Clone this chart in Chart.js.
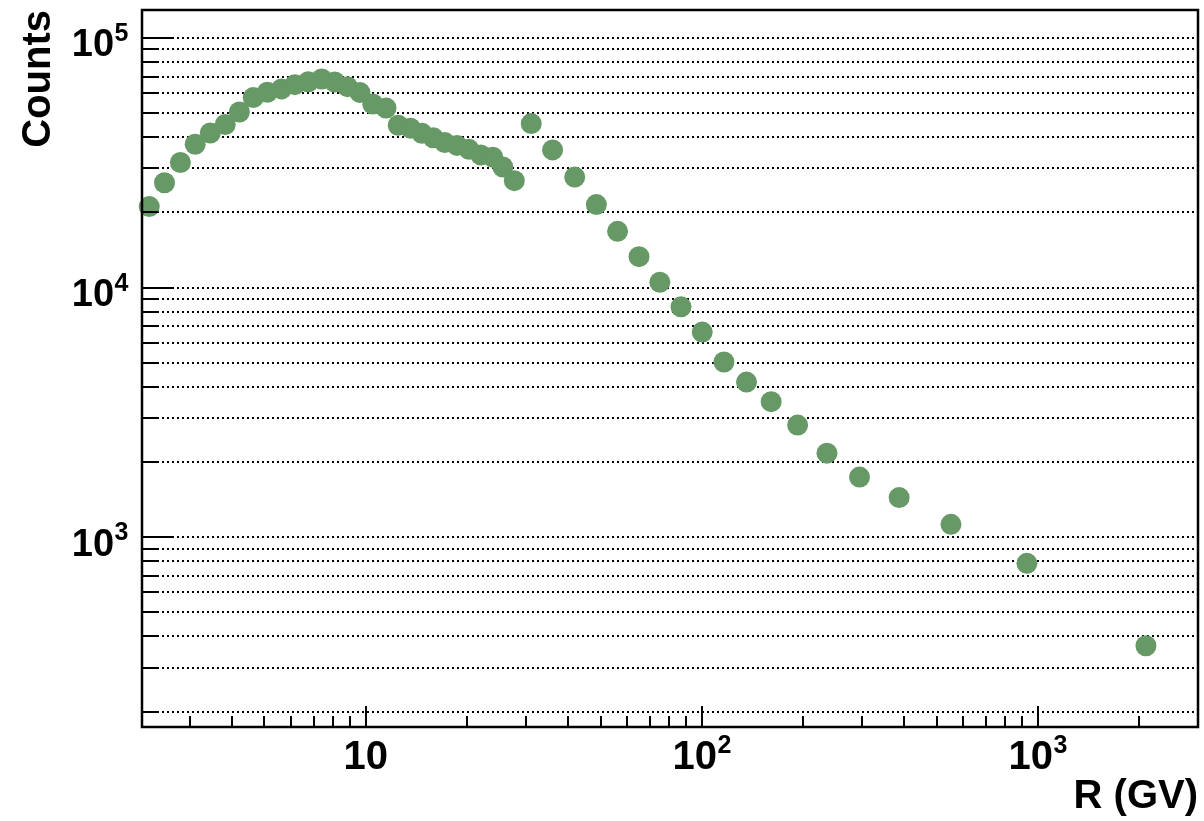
<!DOCTYPE html>
<html>
<head>
<meta charset="utf-8">
<script src="https://cdn.jsdelivr.net/npm/chart.js@4"></script>
<style>
	html, body { margin: 0; padding: 0; background: #fff; }
	canvas { display: block; }
</style>
</head>
<body>
<canvas id="chart" width="1204" height="821"></canvas>
<script>
// rigidity bin centres (GV) and event counts per bin
const rigidity = [
	2.27, 2.52, 2.81, 3.11, 3.45, 3.82, 4.21, 4.63, 5.10, 5.62,
	6.16, 6.75, 7.40, 8.09, 8.82, 9.62, 10.5, 11.5, 12.5, 13.6,
	14.7, 15.9, 17.2, 18.7, 20.3, 22.0, 23.9, 25.6, 27.7, 31.1,
	36.0, 41.9, 48.6, 56.2, 65.1, 75.1, 86.8, 100.4, 116.5, 136,
	161, 193, 236, 295, 387, 552, 929, 2100
];
const counts = [
	21100, 26300, 31700, 37500, 41600, 45000, 50500, 57700, 60600, 62500,
	65000, 66800, 68500, 66600, 63800, 60400, 54400, 52400, 44700, 43500,
	41500, 39800, 38100, 37100, 35800, 34000, 33300, 30400, 26800, 45400,
	35600, 27700, 21500, 16800, 13300, 10500, 8370, 6630, 5030, 4180,
	3490, 2810, 2170, 1740, 1440, 1125, 785, 367
];

// labelled decades on each axis ("" = no exponent)
const xLabelValues = [10, 100, 1000];
const xLabelExponents = ["", "2", "3"];
const yLabelValues = [1000, 10000, 100000];
const yLabelExponents = ["3", "4", "5"];

const xTitle = "R (GV)";
const yTitle = "Counts";

const FONT = '"Liberation Sans", Arial, Helvetica, sans-serif';
const POINT_COLOR = "#669966";

// 1..9 x 10^n values between min and max
function logTicks(min, max) {
	const out = [];
	const lo = Math.floor(Math.log10(min));
	const hi = Math.ceil(Math.log10(max));
	for (let e = lo; e <= hi; e++) {
		for (let m = 1; m <= 9; m++) {
			const v = m * Math.pow(10, e);
			if (v >= min && v <= max) out.push({ value: v, major: m === 1 });
		}
	}
	return out;
}

function drawPower(ctx, exp, x, y, size, supSize, align) {
	const main = "bold " + size + "px " + FONT;
	const sup = "bold " + supSize + "px " + FONT;
	ctx.font = main;
	const w1 = ctx.measureText("10").width;
	let w2 = 0;
	if (exp) {
		ctx.font = sup;
		w2 = ctx.measureText(exp).width;
	}
	const total = w1 + w2;
	const x0 = align === "right" ? x - total : x - total / 2;
	ctx.textAlign = "left";
	ctx.textBaseline = "alphabetic";
	ctx.font = main;
	ctx.fillText("10", x0, y);
	if (exp) {
		ctx.font = sup;
		ctx.fillText(exp, x0 + w1 + 0.5, y - size * 0.4);
	}
}

// inside ticks, frame, tick labels and axis titles
const rootFrame = {
	id: "rootFrame",
	afterDatasetsDraw(chart) {
		const ctx = chart.ctx;
		const area = chart.chartArea;
		const xs = chart.scales.x;
		const ys = chart.scales.y;

		ctx.save();
		ctx.strokeStyle = "#000";
		ctx.lineWidth = 2;
		ctx.beginPath();
		ys.ticks.forEach(function (t) {
			const py = Math.round(ys.getPixelForValue(t.value));
			ctx.moveTo(area.left, py);
			ctx.lineTo(area.left + (t.major ? 31 : 16), py);
		});
		xs.ticks.forEach(function (t) {
			const px = Math.round(xs.getPixelForValue(t.value));
			ctx.moveTo(px, area.bottom);
			ctx.lineTo(px, area.bottom - (t.major ? 21 : 11));
		});
		ctx.stroke();

		ctx.lineWidth = 2.5;
		ctx.strokeRect(area.left, area.top, area.right - area.left, area.bottom - area.top);

		ctx.fillStyle = "#000";
		yLabelValues.forEach(function (v, i) {
			const py = ys.getPixelForValue(v);
			drawPower(ctx, yLabelExponents[i], 128, py + 18.5, 38, 25, "right");
		});
		xLabelValues.forEach(function (v, i) {
			const px = xs.getPixelForValue(v);
			drawPower(ctx, xLabelExponents[i], px, 769, 40, 25, "center");
		});

		ctx.font = "bold 40px " + FONT;
		ctx.textAlign = "right";
		ctx.textBaseline = "alphabetic";
		ctx.fillText(xTitle, area.right, 808);

		ctx.translate(50, area.top);
		ctx.rotate(-Math.PI / 2);
		ctx.fillText(yTitle, 0, 0);
		ctx.restore();
	},
};

const points = rigidity.map(function (r, i) {
	return { x: r, y: counts[i] };
});

const ctx = document.getElementById("chart").getContext("2d");

new Chart(ctx, {
	type: "scatter",
	data: {
		datasets: [
			{
				data: points,
				pointRadius: 10.5,
				pointBackgroundColor: POINT_COLOR,
				pointBorderWidth: 0,
				pointBorderColor: POINT_COLOR,
				clip: false,
			},
		],
	},
	options: {
		responsive: false,
		animation: false,
		events: [],
		layout: {
			autoPadding: false,
			padding: { top: 10, right: 6, left: 0, bottom: 0 },
		},
		plugins: {
			legend: { display: false },
			tooltip: { enabled: false },
		},
		scales: {
			x: {
				type: "logarithmic",
				min: 2.16,
				max: 3000,
				afterBuildTicks: function (s) {
					s.ticks = logTicks(s.min, s.max);
				},
				afterFit: function (s) {
					s.height = 94;
				},
				ticks: { display: false },
				grid: { display: false, drawTicks: false },
				border: { display: false },
			},
			y: {
				type: "logarithmic",
				min: 173.4,
				max: 129450,
				afterBuildTicks: function (s) {
					s.ticks = logTicks(s.min, s.max);
				},
				afterFit: function (s) {
					s.width = 142;
				},
				ticks: { display: false },
				grid: {
					color: "#000",
					lineWidth: 2,
					drawTicks: false,
					borderDash: [2, 3],
				},
				border: { display: false, dash: [2, 3] },
			},
		},
	},
	plugins: [rootFrame],
});
</script>
</body>
</html>
